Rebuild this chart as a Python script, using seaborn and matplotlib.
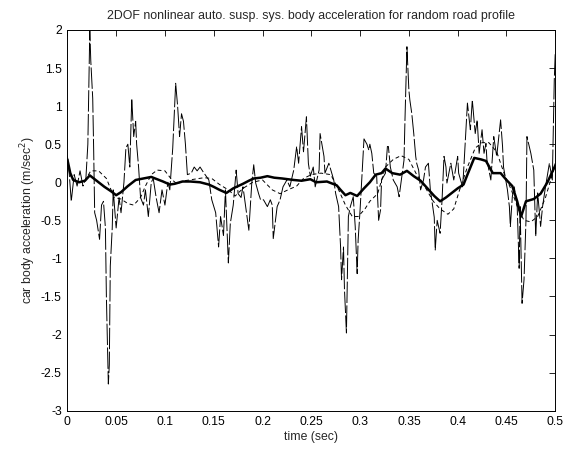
import numpy as np
import pandas as pd
import seaborn as sns
import matplotlib
matplotlib.use("Agg")
import matplotlib.pyplot as plt

# thick solid line (smoothed response)
t_thick = [0, 0.003, 0.006, 0.012, 0.018, 0.023, 0.03, 0.038, 0.045, 0.05, 0.055, 0.062, 0.07, 0.078,
           0.086, 0.092, 0.098, 0.105, 0.11, 0.118, 0.126, 0.136, 0.145, 0.15, 0.156, 0.163, 0.17, 0.18,
           0.186, 0.191, 0.198, 0.205, 0.212, 0.22, 0.232, 0.24, 0.249, 0.255, 0.266, 0.276, 0.28, 0.285,
           0.29, 0.297, 0.304, 0.31, 0.316, 0.322, 0.326, 0.333, 0.341, 0.348, 0.355, 0.362, 0.369, 0.376,
           0.382, 0.388, 0.394, 0.4, 0.406, 0.41, 0.417, 0.424, 0.429, 0.436, 0.444, 0.45, 0.456, 0.461,
           0.465, 0.47, 0.478, 0.485, 0.492, 0.5]
a_thick = [0.3, 0.12, 0.03, 0.0, 0.02, 0.09, 0.02, -0.06, -0.12, -0.17, -0.13, -0.05, 0.03, 0.05,
           0.07, 0.04, 0.01, -0.03, -0.02, 0.01, 0.01, 0.0, -0.03, -0.06, -0.1, -0.14, -0.08, -0.02,
           0.02, 0.05, 0.06, 0.08, 0.06, 0.05, 0.03, 0.02, 0.04, 0.0, 0.01, -0.04, -0.1, -0.17,
           -0.14, -0.18, -0.08, 0.0, 0.1, 0.12, 0.18, 0.12, 0.1, 0.15, 0.08, 0.02, -0.08, -0.18,
           -0.25, -0.2, -0.14, -0.08, -0.03, 0.1, 0.32, 0.3, 0.28, 0.12, 0.12, 0.03, -0.05, -0.25,
           -0.45, -0.25, -0.22, -0.15, 0.0, 0.22]

# dashed line
t_dash = [0, 0.004, 0.01, 0.018, 0.024, 0.032, 0.04, 0.048, 0.055, 0.062, 0.068, 0.075, 0.08, 0.086,
          0.092, 0.1, 0.106, 0.112, 0.12, 0.13, 0.14, 0.148, 0.156, 0.165, 0.172, 0.18, 0.19, 0.2,
          0.21, 0.218, 0.226, 0.235, 0.242, 0.25, 0.26, 0.27, 0.278, 0.285, 0.292, 0.298, 0.305, 0.31,
          0.318, 0.326, 0.334, 0.342, 0.35, 0.358, 0.366, 0.375, 0.382, 0.39, 0.396, 0.402, 0.41, 0.418,
          0.425, 0.432, 0.44, 0.448, 0.455, 0.462, 0.468, 0.475, 0.482, 0.49, 0.497, 0.5]
a_dash = [0.3, 0.05, 0.0, 0.02, 0.15, 0.15, 0.05, -0.2, -0.22, -0.28, -0.3, -0.2, -0.05, 0.1,
          0.16, 0.15, 0.05, -0.02, 0.02, 0.04, 0.06, 0.05, -0.03, -0.1, -0.18, -0.08, 0.0, 0.03,
          -0.1, -0.15, -0.1, -0.05, 0.05, 0.1, 0.12, 0.1, -0.1, -0.3, -0.45, -0.45, -0.35, -0.25,
          -0.15, 0.2, 0.3, 0.35, 0.3, 0.1, -0.05, -0.25, -0.35, -0.42, -0.35, -0.1, 0.2, 0.45,
          0.52, 0.52, 0.4, 0.1, -0.1, -0.35, -0.5, -0.52, -0.45, -0.2, 0.1, 0.25]

# thin line (raw, noisy)
t_thin = [0.0, 0.002, 0.004, 0.007, 0.01, 0.013, 0.016, 0.019, 0.021, 0.023, 0.024, 0.026, 0.027, 0.028,
          0.030, 0.033, 0.035, 0.037, 0.039, 0.040, 0.042, 0.043, 0.044, 0.046, 0.047, 0.05, 0.053, 0.055,
          0.058, 0.06, 0.062, 0.064, 0.066, 0.068, 0.07, 0.071, 0.073, 0.075, 0.078, 0.080, 0.083, 0.086,
          0.088, 0.091, 0.094, 0.097, 0.1, 0.103, 0.105, 0.108, 0.111, 0.113, 0.115, 0.117, 0.119, 0.121,
          0.123, 0.127, 0.13, 0.133, 0.136, 0.139, 0.145, 0.148, 0.152, 0.155, 0.157, 0.16, 0.162, 0.165,
          0.167, 0.170, 0.173, 0.175, 0.178, 0.18, 0.186, 0.189, 0.191, 0.193, 0.196, 0.198, 0.201, 0.205,
          0.208, 0.210, 0.211, 0.215, 0.218, 0.221, 0.225, 0.228, 0.232, 0.235, 0.237, 0.24, 0.242, 0.245,
          0.247, 0.249, 0.252, 0.254, 0.258, 0.259, 0.263, 0.264, 0.268, 0.271, 0.273, 0.275, 0.278, 0.28,
          0.281, 0.283, 0.284, 0.286, 0.288, 0.29, 0.293, 0.295, 0.297, 0.298, 0.3, 0.304, 0.307, 0.309,
          0.31, 0.312, 0.314, 0.317, 0.319, 0.321, 0.322, 0.326, 0.328, 0.329, 0.331, 0.334, 0.338, 0.34,
          0.345, 0.346, 0.348, 0.35, 0.351, 0.353, 0.355, 0.357, 0.358, 0.36, 0.362, 0.365, 0.367, 0.37,
          0.372, 0.376, 0.377, 0.379, 0.382, 0.384, 0.386, 0.388, 0.389, 0.393, 0.396, 0.4, 0.401, 0.405,
          0.406, 0.41, 0.413, 0.415, 0.418, 0.42, 0.422, 0.425, 0.427, 0.429, 0.43, 0.434, 0.437, 0.44,
          0.444, 0.446, 0.447, 0.451, 0.453, 0.454, 0.456, 0.458, 0.461, 0.463, 0.464, 0.466, 0.468, 0.47,
          0.471, 0.475, 0.478, 0.48, 0.482, 0.485, 0.487, 0.49, 0.494, 0.497, 0.499, 0.5]
a_thin = [0.35, 0.1, -0.25, 0.1, -0.05, 0.15, -0.05, 0.05, 0.5, 2.0, 1.6, 1.1, 0.4, -0.4,
          -0.5, -0.75, -0.3, -0.25, -0.6, -1.5, -2.65, -2.4, -1.1, -0.6, -0.1, -0.6, -0.2, -0.4,
          0.0, 0.45, 0.5, 0.2, 1.1, 0.6, 0.8, 0.5, 0.2, -0.2, -0.3, -0.1, -0.45, 0.0,
          0.05, -0.2, -0.4, -0.1, -0.3, 0.0, -0.1, 0.45, 1.3, 1.0, 0.6, 0.9, 0.8, 0.5,
          0.1, 0.12, 0.2, 0.15, 0.2, 0.14, 0.03, -0.23, -0.4, -0.85, -0.45, -0.7, -0.1, -1.06,
          -0.54, -0.3, 0.16, -0.15, -0.2, -0.06, -0.63, -0.01, 0.23, -0.01, -0.15, -0.23, -0.23, -0.32,
          -0.23, -0.3, -0.74, -0.32, -0.23, -0.06, 0.03, -0.06, 0.16, 0.47, 0.25, 0.73, 0.4, 0.86,
          0.25, 0.08, 0.2, -0.06, 0.16, 0.64, 0.34, 0.12, 0.25, 0.12, 0.03, -0.15, -0.32, -0.85,
          -1.28, -0.85, -1.41, -1.98, -0.45, -0.32, -0.19, -0.58, -1.2, -0.76, -0.36, 0.57, 0.5, 0.42,
          0.5, 0.38, 0.12, 0.08, -0.5, -0.36, 0.03, 0.12, 0.47, 0.47, 0.2, 0.03, -0.06, -0.19,
          0.29, 0.82, 1.78, 1.21, 1.08, 0.9, 0.64, 0.34, 0.25, 0.16, -0.1, 0.03, 0.2, 0.25,
          -0.1, -0.46, -0.89, -0.5, -0.67, -0.23, 0.34, 0.2, -0.01, 0.25, 0.03, 0.34, 0.12, -0.06,
          0.12, 1.04, 0.69, 1.08, 0.64, 0.82, 0.38, 0.69, 0.38, 0.51, 0.29, 0.03, 0.6, 0.34,
          0.82, 0.47, 0.2, -0.1, -0.32, -0.58, -0.19, -0.06, -0.32, -1.13, -0.32, -1.59, -1.28, -0.5,
          0.6, 0.38, 0.16, -0.71, -0.14, -0.58, -0.32, -0.06, 0.25, 0.03, 1.34, 1.7]

sns.set_style("white")
plt.rcParams['font.family'] = ['Liberation Sans', 'DejaVu Sans']
plt.rcParams['font.size'] = 8.8

fig = plt.figure(figsize=(5.66, 4.51), dpi=100)
ax = fig.add_axes([0.119, 0.0894, 0.862, 0.8441])

sns.lineplot(x=t_thin, y=a_thin, ax=ax, estimator=None, sort=False, color='black', linewidth=0.7)
ax.lines[-1].set_dashes([22, 2.5])
sns.lineplot(x=t_dash, y=a_dash, ax=ax, estimator=None, sort=False, color='black', linewidth=0.7)
ax.lines[-1].set_dashes([4, 3])
sns.lineplot(x=t_thick, y=a_thick, ax=ax, estimator=None, sort=False, color='black', linewidth=1.8)

ax.set_xlim(0, 0.5)
ax.set_ylim(-3, 2)
ax.set_xticks(np.arange(0, 0.51, 0.05))
ax.set_xticklabels(['0', '0.05', '0.1', '0.15', '0.2', '0.25', '0.3', '0.35', '0.4', '0.45', '0.5'])
ax.set_yticks(np.arange(-3, 2.1, 0.5))
ax.set_yticklabels(['-3', '-2.5', '-2', '-1.5', '-1', '-0.5', '0', '0.5', '1', '1.5', '2'])
ax.tick_params(direction='in', top=True, right=True, length=4, width=0.6, colors='black',
               labelsize=8.8, pad=4)
for s in ax.spines.values():
    s.set_color('black')
    s.set_linewidth(0.7)

ax.set_xlabel('time (sec)', labelpad=2)
ax.set_ylabel('car body acceleration (m/sec$^2$)', labelpad=2)
ax.set_title('2DOF nonlinear auto. susp. sys. body acceleration for random road profile',
             fontsize=8.9, pad=8)

fig.savefig('out.png', dpi=100)
